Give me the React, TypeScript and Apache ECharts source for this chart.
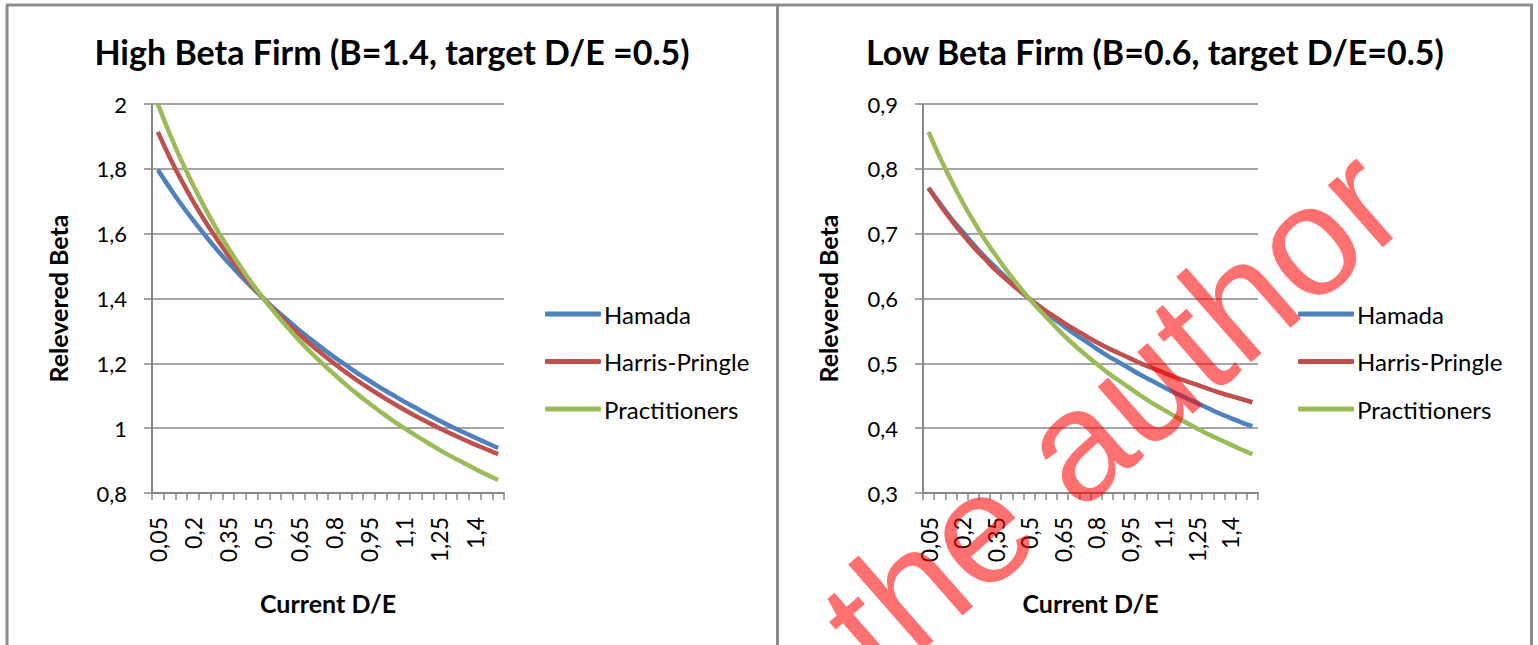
import React, { useEffect, useRef } from "react";
import * as echarts from "echarts";

const categories = ["0,05","0,1","0,15","0,2","0,25","0,3","0,35","0,4","0,45","0,5","0,55","0,6","0,65","0,7","0,75","0,8","0,85","0,9","0,95","1","1,05","1,1","1,15","1,2","1,25","1,3","1,35","1,4","1,45","1,5"];

const seriesNames = ["Hamada", "Harris-Pringle", "Practitioners"];

const highHamada = [1.797,1.742,1.690,1.642,1.596,1.552,1.511,1.472,1.435,1.400,1.366,1.335,1.304,1.275,1.247,1.220,1.195,1.170,1.147,1.124,1.103,1.082,1.062,1.042,1.023,1.005,0.988,0.971,0.955,0.939];
const highHarrisPringle = [1.914,1.836,1.765,1.700,1.640,1.585,1.533,1.486,1.441,1.400,1.361,1.325,1.291,1.259,1.229,1.200,1.173,1.147,1.123,1.100,1.078,1.057,1.037,1.018,1.000,0.983,0.966,0.950,0.935,0.920];
const highPractitioners = [2.000,1.909,1.826,1.750,1.680,1.615,1.556,1.500,1.448,1.400,1.355,1.313,1.273,1.235,1.200,1.167,1.135,1.105,1.077,1.050,1.024,1.000,0.977,0.955,0.933,0.913,0.894,0.875,0.857,0.840];

const lowHamada = [0.770,0.747,0.724,0.704,0.684,0.665,0.648,0.631,0.615,0.600,0.586,0.572,0.559,0.546,0.535,0.523,0.512,0.502,0.492,0.482,0.473,0.464,0.455,0.447,0.439,0.431,0.423,0.416,0.409,0.403];
const lowHarrisPringle = [0.771,0.745,0.722,0.700,0.680,0.662,0.644,0.629,0.614,0.600,0.587,0.575,0.564,0.553,0.543,0.533,0.524,0.516,0.508,0.500,0.493,0.486,0.479,0.473,0.467,0.461,0.455,0.450,0.445,0.440];
const lowPractitioners = [0.857,0.818,0.783,0.750,0.720,0.692,0.667,0.643,0.621,0.600,0.581,0.563,0.545,0.529,0.514,0.500,0.486,0.474,0.462,0.450,0.439,0.429,0.419,0.409,0.400,0.391,0.383,0.375,0.367,0.360];

const titles = ["High Beta Firm (B=1.4, target D/E =0.5)", "Low Beta Firm (B=0.6, target D/E=0.5)"];
const yAxisTitle = "Relevered Beta";
const xAxisTitle = "Current D/E";
const watermark = "the author";

const colors = ["#4F81BD", "#C0504D", "#9BBB59"];
const FONT = "Lato, 'Open Sans', sans-serif";

export default function App() {
  const ref = useRef<HTMLDivElement>(null);
  useEffect(() => {
    if (!ref.current) return;
    const chart = echarts.init(ref.current, undefined, { renderer: "svg" });
    const fmt = (v: number) => String(Math.round(v * 10) / 10).replace(".", ",");
    const gridCfg = [
      { left: 152, top: 104, width: 352, height: 389 },
      { left: 923, top: 104, width: 335, height: 389 },
    ];
    const xAxis = [0, 1].map((i) => ({
      type: "category",
      gridIndex: i,
      data: categories,
      boundaryGap: true,
      name: xAxisTitle,
      nameLocation: "middle",
      nameGap: 97,
      nameTextStyle: { fontFamily: FONT, fontWeight: "bold", fontSize: 25, color: "#000" },
      axisLine: { lineStyle: { color: "#868686", width: 2 } },
      axisTick: { show: true, interval: 0, length: 7, lineStyle: { color: "#868686", width: 1.5 } },
      axisLabel: { interval: 2, rotate: 90, margin: 24, fontFamily: FONT, fontSize: 23, color: "#000" },
      splitLine: { show: false },
    }));
    const yAxis = [
      { min: 0.8, max: 2, interval: 0.2, gap: 82 },
      { min: 0.3, max: 0.9, interval: 0.1, gap: 83 },
    ].map((r, i) => ({
      type: "value",
      gridIndex: i,
      min: r.min,
      max: r.max,
      interval: r.interval,
      name: yAxisTitle,
      nameLocation: "middle",
      nameGap: r.gap,
      nameRotate: 90,
      nameTextStyle: { fontFamily: FONT, fontWeight: "bold", fontSize: 25, color: "#000" },
      axisLine: { show: true, lineStyle: { color: "#868686", width: 2 } },
      axisTick: { show: true, length: 8, lineStyle: { color: "#868686", width: 1.5 } },
      axisLabel: { margin: 25, fontFamily: FONT, fontSize: 22, color: "#000", formatter: fmt },
      splitLine: { show: true, lineStyle: { color: "#878787", width: 1.5 } },
    }));
    const dataSets = [
      [highHamada, highHarrisPringle, highPractitioners],
      [lowHamada, lowHarrisPringle, lowPractitioners],
    ];
    const series: any[] = [];
    dataSets.forEach((set, gi) => {
      set.forEach((d, si) => {
        series.push({
          type: "line",
          name: seriesNames[si],
          xAxisIndex: gi,
          yAxisIndex: gi,
          data: d,
          smooth: true,
          symbol: "none",
          lineStyle: { color: colors[si], width: 4.5 },
          itemStyle: { color: colors[si] },
          z: 2,
        });
      });
    });
    const legend = [540, 1293].map((left) => ({
      orient: "vertical",
      left,
      top: 296,
      data: seriesNames,
      icon: "roundRect",
      itemWidth: 56,
      itemHeight: 5,
      itemGap: 21.5,
      selectedMode: false,
      textStyle: { fontFamily: FONT, fontSize: 24, color: "#000", lineHeight: 26, padding: [0, 0, 0, -2] },
    }));
    const border = { stroke: "#8c8c8c", lineWidth: 3 };
    const graphic: any[] = [
      { type: "line", shape: { x1: 6, y1: 5, x2: 1533, y2: 5 }, style: border, silent: true },
      { type: "line", shape: { x1: 7, y1: 5, x2: 7, y2: 700 }, style: border, silent: true },
      { type: "line", shape: { x1: 777.5, y1: 5, x2: 777.5, y2: 700 }, style: border, silent: true },
      { type: "line", shape: { x1: 1531.5, y1: 5, x2: 1531.5, y2: 700 }, style: border, silent: true },
      {
        type: "text", x: 392, y: 51, silent: true,
        style: { text: titles[0], font: `bold 34px ${FONT}`, textAlign: "center", textVerticalAlign: "middle", align: "center", verticalAlign: "middle", fill: "#000" },
      },
      {
        type: "text", x: 1155, y: 51, silent: true,
        style: { text: titles[1], font: `bold 34px ${FONT}`, textAlign: "center", textVerticalAlign: "middle", align: "center", verticalAlign: "middle", fill: "#000" },
      },
      {
        type: "text", x: 1112, y: 412, rotation: 0.72, z: 100, silent: true,
        style: { text: watermark, font: `157px 'Liberation Sans', Arial, sans-serif`, textAlign: "center", textVerticalAlign: "middle", align: "center", verticalAlign: "middle", fill: "rgba(255,0,0,0.56)" },
      },
    ];
    chart.setOption({
      animation: false,
      backgroundColor: "#ffffff",
      grid: gridCfg,
      xAxis,
      yAxis,
      series,
      legend,
      graphic,
    });
    return () => chart.dispose();
  }, []);
  return <div ref={ref} style={{ position: "fixed", left: 0, top: 0, width: 1538, height: 645 }} />;
}
